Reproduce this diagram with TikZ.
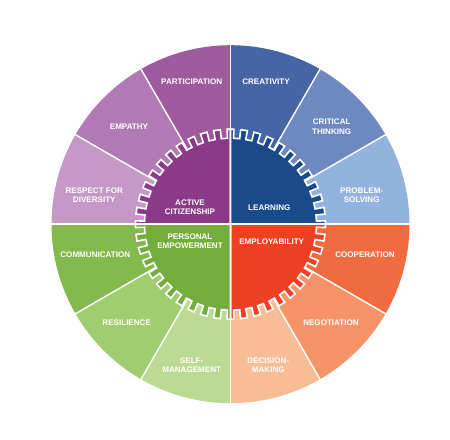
\documentclass[tikz,border=0pt]{standalone}
\usepackage{fontspec}
\setmainfont{Liberation Sans}
\definecolor{cPart}{HTML}{9E5A9C}
\definecolor{cEmp}{HTML}{B07BB4}
\definecolor{cResp}{HTML}{C598C7}
\definecolor{cAct}{HTML}{8A3A88}
\definecolor{cCrea}{HTML}{4565A5}
\definecolor{cCrit}{HTML}{6D89C0}
\definecolor{cProb}{HTML}{93B3DF}
\definecolor{cLearn}{HTML}{1A4A8A}
\definecolor{cCoop}{HTML}{F06C40}
\definecolor{cNeg}{HTML}{F59469}
\definecolor{cDec}{HTML}{F9BD96}
\definecolor{cEmpl}{HTML}{EE4123}
\definecolor{cComm}{HTML}{84B94E}
\definecolor{cRes}{HTML}{9FCD6F}
\definecolor{cSelf}{HTML}{BBDB94}
\definecolor{cPers}{HTML}{74AC3E}
\begin{document}
\begin{tikzpicture}[x=1bp,y=1bp,
  lab/.style={text=white,font=\fontsize{8.1}{9.3}\selectfont\bfseries,align=center,inner sep=0pt},
  divider/.style={white,line width=1.4bp},
  gearpart/.style={draw=white,line width=1.6bp,line join=miter}]
\useasboundingbox (-230.5,-215.8) rectangle (219.5,224.2);
\def\R{179}
\def\Ro{95}
\def\Ri{86}
\pgfmathsetmacro{\p}{90/11}
\pgfmathsetmacro{\w}{\p/4}
% outer sectors
\foreach \a/\c in {90/cPart,120/cEmp,150/cResp,60/cCrea,30/cCrit,0/cProb,-30/cCoop,-60/cNeg,-90/cDec,180/cComm,210/cRes,240/cSelf}
  \fill[\c] (0,0) -- (\a:\R) arc[start angle=\a, end angle=\a+30, radius=179bp] -- cycle;
% radial dividers
\foreach \a in {30,60,120,150,210,240,300,330}
  \draw[divider] (\a:85) -- (\a:181);
% gear quadrants
\foreach \a/\c in {90/cAct,0/cLearn,-90/cEmpl,180/cPers}
  \filldraw[gearpart,fill=\c] (0,0) -- (\a:\Ro) -- ({\a+\w}:\Ro) -- ({\a+\w}:\Ri)
    \foreach \k in {1,...,10}{ -- ({\a+\k*\p-\w}:\Ri) -- ({\a+\k*\p-\w}:\Ro) -- ({\a+\k*\p+\w}:\Ro) -- ({\a+\k*\p+\w}:\Ri)}
    -- ({\a+90-\w}:\Ri) -- ({\a+90-\w}:\Ro) -- ({\a+90}:\Ro) -- cycle;
% cross
\draw[white,line width=1.6bp] (90:181) -- (-90:181);
\draw[white,line width=1.6bp] (180:181) -- (0:181);
% labels
\node[lab] (part) at (-38.8,142.5) {PARTICIPATION};
\node[lab] (emp) at (-101.5,97.2) {EMPATHY};
\node[lab] (resp) at (-136.2,28.9) {RESPECT FOR\\DIVERSITY};
\node[lab] (crea) at (35.5,142.5) {CREATIVITY};
\node[lab] (crit) at (101.2,97.5) {CRITICAL\\THINKING};
\node[lab] (prob) at (131.2,28.9) {PROBLEM-\\SOLVING};
\node[lab] (coop) at (134.5,-30.8) {COOPERATION};
\node[lab] (neg) at (100.5,-98.5) {NEGOTIATION};
\node[lab] (dec) at (37.8,-140.8) {DECISION-\\MAKING};
\node[lab] (comm) at (-135.2,-30.8) {COMMUNICATION};
\node[lab] (res) at (-103.8,-98.5) {RESILIENCE};
\node[lab] (self) at (-38.8,-140.8) {SELF-\\MANAGEMENT};
\node[lab] (act) at (-40.5,16.9) {ACTIVE\\CITIZENSHIP};
\node[lab] (learn) at (38.8,16.2) {LEARNING};
\node[lab] (pers) at (-40.5,-17.1) {PERSONAL\\EMPOWERMENT};
\node[lab] (empl) at (41.2,-17.5) {EMPLOYABILITY};
\end{tikzpicture}
\end{document}
